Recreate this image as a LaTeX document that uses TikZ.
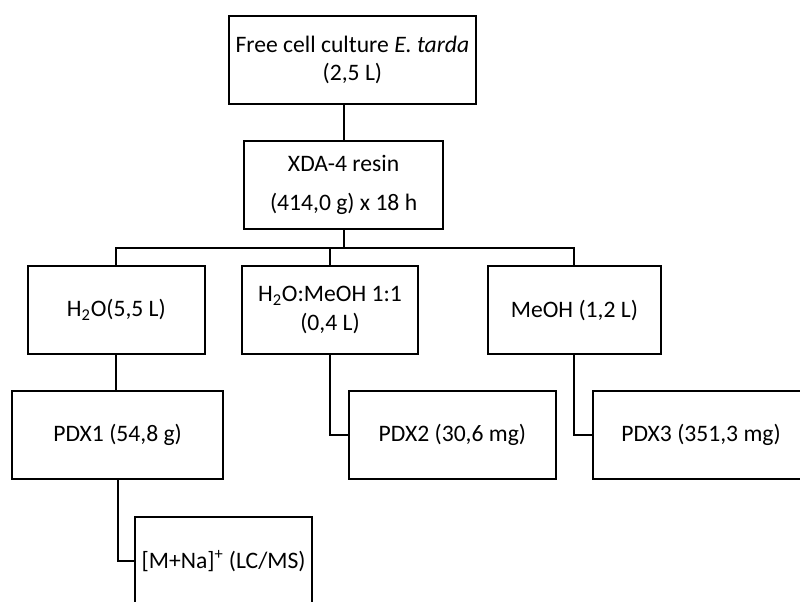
\documentclass[tikz,border=0pt]{standalone}
\usepackage{fontspec}
\setmainfont{Carlito}
\usepackage{tikz}
\usetikzlibrary{calc}

\begin{document}
\begin{tikzpicture}[
		box/.style={draw,line width=1.5pt,rectangle,align=center,minimum height=2.2cm,inner sep=0pt,font=\fontsize{16.8}{20.2}\selectfont},
		link/.style={line width=1.5pt}]
		\useasboundingbox (0,0) rectangle (20,-15.025);
		
		\node[box,minimum width=6.175cm](top) at (8.81,-1.5){Free cell culture \textit{E. tarda}\\(2,5 L)};
		\node[box,minimum width=4.975cm](xda) at (8.59,-4.625){XDA-4 resin\\[7pt](414,0 g) x 18 h};
		\coordinate(split) at (8.59,-6.2);
		
		\node[box,minimum width=4.425cm](h2o) at (2.91,-7.75){H\textsubscript{2}O(5,5 L)};
		\node[box,minimum width=4.4cm](mix) at (8.25,-7.75){H\textsubscript{2}O:MeOH 1:1\\(0,4 L)};
		\node[box,minimum width=4.325cm](meoh) at (14.36,-7.75){MeOH (1,2 L)};
		
		\node[box,minimum width=5.275cm](pdx1) at (2.94,-10.875){PDX1 (54,8 g)};
		\node[box,minimum width=5.175cm](pdx2) at (11.31,-10.875){PDX2 (30,6 mg)};
		\node[box,minimum width=5.4cm](pdx3) at (17.525,-10.875){PDX3 (351,3 mg)};
		
		\node[box,minimum width=4.425cm](ms) at (5.59,-14.025){[M+Na]\textsuperscript{+} (LC/MS)};
		
		\draw[link] (xda.north)--(xda.north |- top.south);
		\draw[link] (xda.south)--(split);
		\draw[link] (h2o.north) |- (split) -| (meoh.north);
		\draw[link] (mix.north)--(mix.north |- split);
		
		\draw[link] (h2o.south)--(h2o.south |- pdx1.north);
		\draw[link] (mix.south) |- (pdx2.west);
		\draw[link] (meoh.south) |- (pdx3.west);
		\draw[link] (pdx1.south) |- (ms.west);
	\end{tikzpicture}
\end{document}
